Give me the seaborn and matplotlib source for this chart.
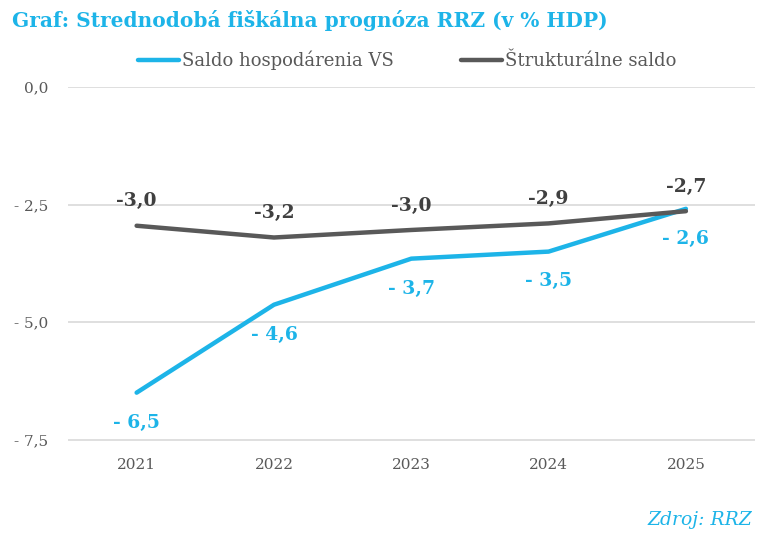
import pandas as pd
import seaborn as sns
import matplotlib.pyplot as plt

years = ["2021", "2022", "2023", "2024", "2025"]
saldo_vs = [-6.5, -4.63, -3.65, -3.5, -2.59]
saldo_vs_labels = ["- 6,5", "- 4,6", "- 3,7", "- 3,5", "- 2,6"]
strukt = [-2.95, -3.2, -3.04, -2.9, -2.64]
strukt_labels = ["-3,0", "-3,2", "-3,0", "-2,9", "-2,7"]
series_names = ["Saldo hospodárenia VS", "Štrukturálne saldo"]
y_ticks = [0.0, -2.5, -5.0, -7.5]
y_tick_labels = ["0,0", "- 2,5", "- 5,0", "- 7,5"]

BLUE = "#1db4e8"
GRAY = "#595959"

df = pd.DataFrame({
    "rok": years * 2,
    "hodnota": saldo_vs + strukt,
    "rad": [series_names[0]] * 5 + [series_names[1]] * 5,
})

sns.set_theme(style="white")
plt.rcParams["font.family"] = ["DejaVu Serif"]

fig = plt.figure(figsize=(7.68, 5.34), dpi=100)
ax = fig.add_axes([0.0885, 0.174, 0.894, 0.663])

sns.lineplot(data=df, x="rok", y="hodnota", hue="rad",
             palette=[BLUE, GRAY], linewidth=3.2, ax=ax, sort=False)

ax.set_xlim(-0.5, 4.5)
ax.set_ylim(-7.53, 0)
ax.set_yticks(y_ticks)
ax.set_yticklabels(y_tick_labels)
ax.yaxis.grid(True, color="#d9d9d9", linewidth=1.2)
ax.set_axisbelow(True)
for s in ax.spines.values():
    s.set_visible(False)
ax.tick_params(axis="both", length=0, labelsize=11, labelcolor=GRAY)
ax.tick_params(axis="y", pad=14)
ax.tick_params(axis="x", pad=12)
ax.set_xlabel("")
ax.set_ylabel("")

# data labels
for i, (v, lab) in enumerate(zip(saldo_vs, saldo_vs_labels)):
    ax.annotate(lab, (i, v), xytext=(0, -15), textcoords="offset points",
                ha="center", va="top", color=BLUE, fontsize=13.5, fontweight="bold")
for i, (v, lab) in enumerate(zip(strukt, strukt_labels)):
    ax.annotate(lab, (i, v), xytext=(0, 11), textcoords="offset points",
                ha="center", va="bottom", color="#404040", fontsize=13.5, fontweight="bold")

leg = ax.legend(loc="center", bbox_to_anchor=(0.494, 1.075), ncol=2, frameon=False,
                fontsize=13, handlelength=2.3, handletextpad=0.15, columnspacing=3.7)
for t in leg.get_texts():
    t.set_color(GRAY)

fig.text(0.015, 0.962, "Graf: Strednodobá fiškálna prognóza RRZ (v % HDP)",
         color=BLUE, fontsize=14.5, fontweight="bold", ha="left", va="center")
fig.text(0.98, 0.027, "Zdroj: RRZ", color=BLUE, fontsize=13.5, style="italic",
         ha="right", va="center")

fig.savefig("out.png", dpi=100)
